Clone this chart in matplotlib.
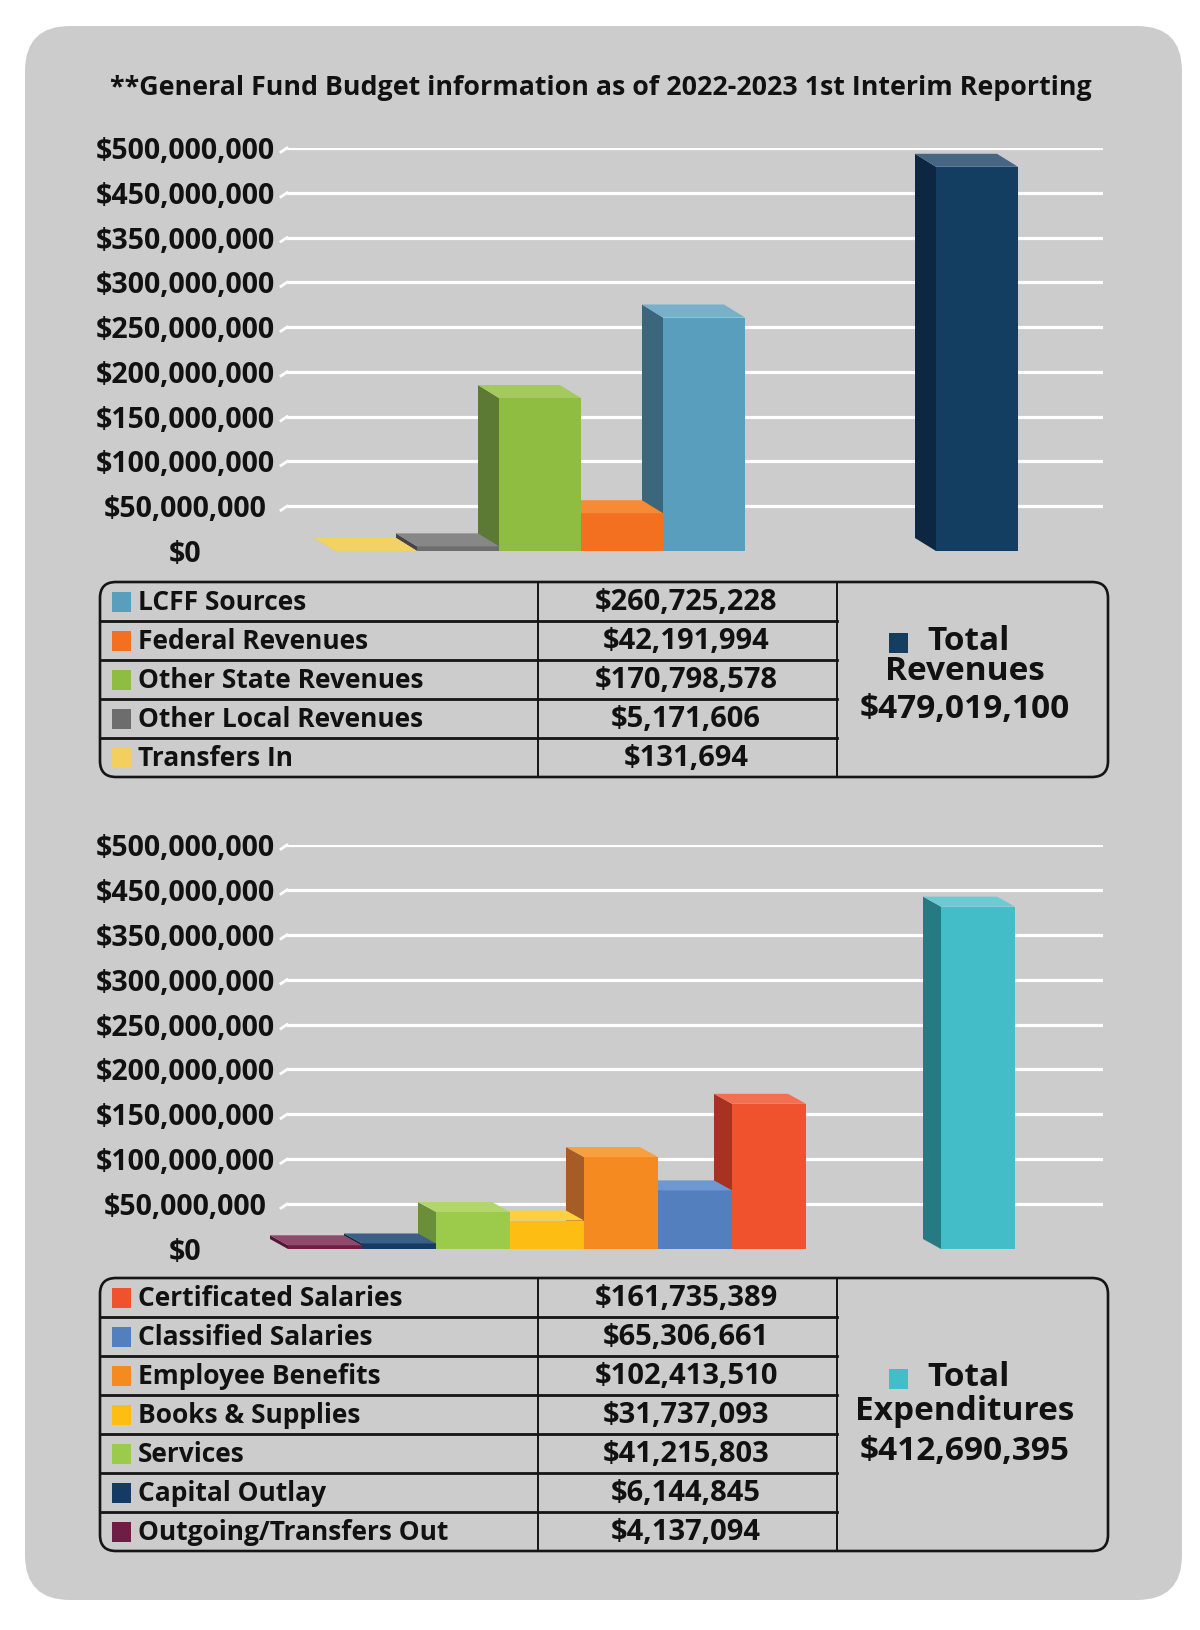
import numpy as np
import matplotlib

matplotlib.use("Agg")
import matplotlib.pyplot as plt
from matplotlib.patches import FancyBboxPatch, Polygon, Rectangle
from matplotlib.transforms import IdentityTransform

W, H, DPI = 1200, 1630, 100

TITLE = "**General Fund Budget information as of 2022-2023 1st Interim Reporting"

# y axis as printed on the chart (no $400,000,000 tick, gridlines are evenly spaced)
TICK_VALUES = [0, 50e6, 100e6, 150e6, 200e6, 250e6, 300e6, 350e6, 450e6, 500e6]
TICK_LABELS = ["$0", "$50,000,000", "$100,000,000", "$150,000,000", "$200,000,000",
               "$250,000,000", "$300,000,000", "$350,000,000", "$450,000,000", "$500,000,000"]

# revenues, in table order (bars run the other way)
REV_NAMES = ["LCFF Sources", "Federal Revenues", "Other State Revenues",
             "Other Local Revenues", "Transfers In"]
REV_VALUES = [260725228, 42191994, 170798578, 5171606, 131694]
REV_LABELS = ["$260,725,228", "$42,191,994", "$170,798,578", "$5,171,606", "$131,694"]
REV_TOTAL = 479019100
REV_TOTAL_LABEL = "$479,019,100"

EXP_NAMES = ["Certificated Salaries", "Classified Salaries", "Employee Benefits",
             "Books & Supplies", "Services", "Capital Outlay", "Outgoing/Transfers Out"]
EXP_VALUES = [161735389, 65306661, 102413510, 31737093, 41215803, 6144845, 4137094]
EXP_LABELS = ["$161,735,389", "$65,306,661", "$102,413,510", "$31,737,093",
              "$41,215,803", "$6,144,845", "$4,137,094"]
EXP_TOTAL = 412690395
EXP_TOTAL_LABEL = "$412,690,395"

# (front, side, top) colours
REV_COLORS = [("#5a9ebe", "#3a677b", "#78afca"),
              ("#f37021", "#b5531a", "#f68b37"),
              ("#8ebd41", "#5d7a35", "#a3c95f"),
              ("#6d6d6d", "#444444", "#878787"),
              ("#f3cf5e", "#c9a94a", "#f3d262")]
REV_TOTAL_COLORS = ("#133d61", "#0d2641", "#466683")
EXP_COLORS = [("#f0522e", "#a83222", "#f36f52"),
              ("#537fbf", "#3d5f8f", "#6f98d0"),
              ("#f58a20", "#a65c27", "#f7a03f"),
              ("#fdbd13", "#c99812", "#fdd03f"),
              ("#9cca4a", "#6a8f3a", "#b0d66c"),
              ("#153a63", "#0e2845", "#3c5f85"),
              ("#6e1d45", "#561536", "#8f4a6b")]
EXP_TOTAL_COLORS = ("#43bdc8", "#267b82", "#6ccad2")

FONT = ["Open Sans", "DejaVu Sans"]
INK = "#111111"
WEIGHT = "bold"
plt.rcParams["font.family"] = FONT

slots = np.arange(len(TICK_VALUES))


def fwd(v):
    return np.interp(v, TICK_VALUES, slots)


def inv(s):
    return np.interp(s, slots, TICK_VALUES)


def fig_rect(x0, y_top, x1, y_bot):
    return [x0 / W, 1 - y_bot / H, (x1 - x0) / W, (y_bot - y_top) / H]


def bar3d(ax, x, value, width, colors, dx, dy, z):
    front, side, top = colors
    ax.bar(x, value, width, color=front, linewidth=0, zorder=z)
    (px0, py0), (px1, py1) = ax.transData.transform([(x - width / 2, 0), (x + width / 2, value)])
    side_pts = [(px0, py0), (px0, py1), (px0 + dx, py1 + dy), (px0 + dx, py0 + dy)]
    top_pts = [(px0, py1), (px1, py1), (px1 + dx, py1 + dy), (px0 + dx, py1 + dy)]
    for pts, c in ((side_pts, side), (top_pts, top)):
        ax.add_patch(Polygon(pts, closed=True, transform=IdentityTransform(),
                             fc=c, lw=0, zorder=z, clip_on=False))


def chart(fig, y_top, y_zero, x_first, bar_px, total_px, values, colors, total, total_colors, dx, dy):
    ax_left, ax_right = 287, 1103
    ax = fig.add_axes(fig_rect(ax_left, y_top, ax_right, y_zero))
    ax.set_yscale("function", functions=(fwd, inv))
    ax.set_ylim(0, 500e6)
    ax.set_xlim(-(x_first - ax_left) / bar_px, (ax_right - x_first) / bar_px)
    ax.patch.set_visible(False)
    for s in ax.spines.values():
        s.set_visible(False)
    ax.set_xticks([])
    ax.set_yticks(TICK_VALUES, labels=TICK_LABELS)
    ax.tick_params(axis="y", length=0, pad=(ax_left - 185) * 0.72, labelsize=20.5, labelcolor=INK)
    for lbl in ax.get_yticklabels():
        lbl.set_horizontalalignment("center")
        lbl.set_fontweight(WEIGHT)
    for v in TICK_VALUES[1:]:
        ax.axhline(v, color="white", lw=2.3, zorder=1)
        # little bend where each gridline leaves the side wall
        (gx, gy), = ax.transData.transform([(ax.get_xlim()[0], v)])
        ax.add_line(plt.Line2D([gx - 6, gx], [gy - 4, gy], color="white", lw=2.0,
                               transform=IdentityTransform(), clip_on=False, zorder=1))

    n = len(values)
    # table order is right to left on the chart; left bars sit in front
    for i in range(n):
        k = n - 1 - i
        bar3d(ax, i, values[k], 1.0, colors[k], dx, dy, z=10 + n - i)
    bar3d(ax, (total_px - x_first) / bar_px, total, 1.0, total_colors, dx, dy, z=5)
    return ax


def table(bg, top, names, labels, colors, total_word, total_label, total_color, total_y):
    left, c1, c2, right, rh = 100, 538, 837, 1108, 39
    n = len(names)
    bottom = top + n * rh
    bg.add_patch(FancyBboxPatch((left, top), right - left, n * rh,
                                boxstyle="round,pad=0,rounding_size=16",
                                fc="none", ec="#151515", lw=1.9, zorder=3))
    for x in (c1, c2):
        bg.plot([x, x], [top, bottom], color="#151515", lw=1.4, zorder=3)
    for r in range(1, n):
        y = top + r * rh
        bg.plot([left, c2], [y, y], color="#151515", lw=2.0, zorder=3)
    for r in range(n):
        yc = top + (r + 0.5) * rh
        bg.add_patch(Rectangle((112, yc - 10), 19, 20, fc=colors[r][0], lw=0, zorder=4))
        bg.text(138, yc + 1, names[r], fontsize=19, fontweight=WEIGHT, color=INK,
                ha="left", va="center", zorder=4)
        bg.text(686, yc + 1, labels[r], fontsize=21, fontweight=WEIGHT, color=INK,
                ha="center", va="center", zorder=4)
    y1, y2, y3 = total_y
    bg.add_patch(Rectangle((889, y1 - 9), 19, 20, fc=total_color, lw=0, zorder=4))
    bg.text(927, y1, "Total", fontsize=24, fontweight=WEIGHT, color=INK,
            ha="left", va="center", zorder=4)
    bg.text(965, y2, total_word, fontsize=24, fontweight=WEIGHT, color=INK,
            ha="center", va="center", zorder=4)
    bg.text(965, y3, total_label, fontsize=24, fontweight=WEIGHT, color=INK,
            ha="center", va="center", zorder=4)


fig = plt.figure(figsize=(W / DPI, H / DPI), dpi=DPI, facecolor="white")

bg = fig.add_axes([0, 0, 1, 1])
bg.set_xlim(0, W)
bg.set_ylim(H, 0)
bg.axis("off")
bg.add_patch(FancyBboxPatch((25, 26), 1157, 1574, boxstyle="round,pad=0,rounding_size=45",
                            fc="#cccccc", ec="none", zorder=0))
bg.text(601, 88, TITLE, fontsize=19.3, fontweight=WEIGHT, color=INK,
        ha="center", va="center")

chart(fig, 148, 551, 376, 82, 977, REV_VALUES, REV_COLORS,
      REV_TOTAL, REV_TOTAL_COLORS, -21, 13)
table(bg, 582, REV_NAMES, REV_LABELS, REV_COLORS, "Revenues", REV_TOTAL_LABEL,
      REV_TOTAL_COLORS[0], (642, 672, 710))

chart(fig, 845, 1249, 325, 74, 978, EXP_VALUES, EXP_COLORS,
      EXP_TOTAL, EXP_TOTAL_COLORS, -18, 10)
table(bg, 1278, EXP_NAMES, EXP_LABELS, EXP_COLORS, "Expenditures", EXP_TOTAL_LABEL,
      EXP_TOTAL_COLORS[0], (1378, 1412, 1451))

fig.savefig("out.png", dpi=DPI, facecolor="white")
